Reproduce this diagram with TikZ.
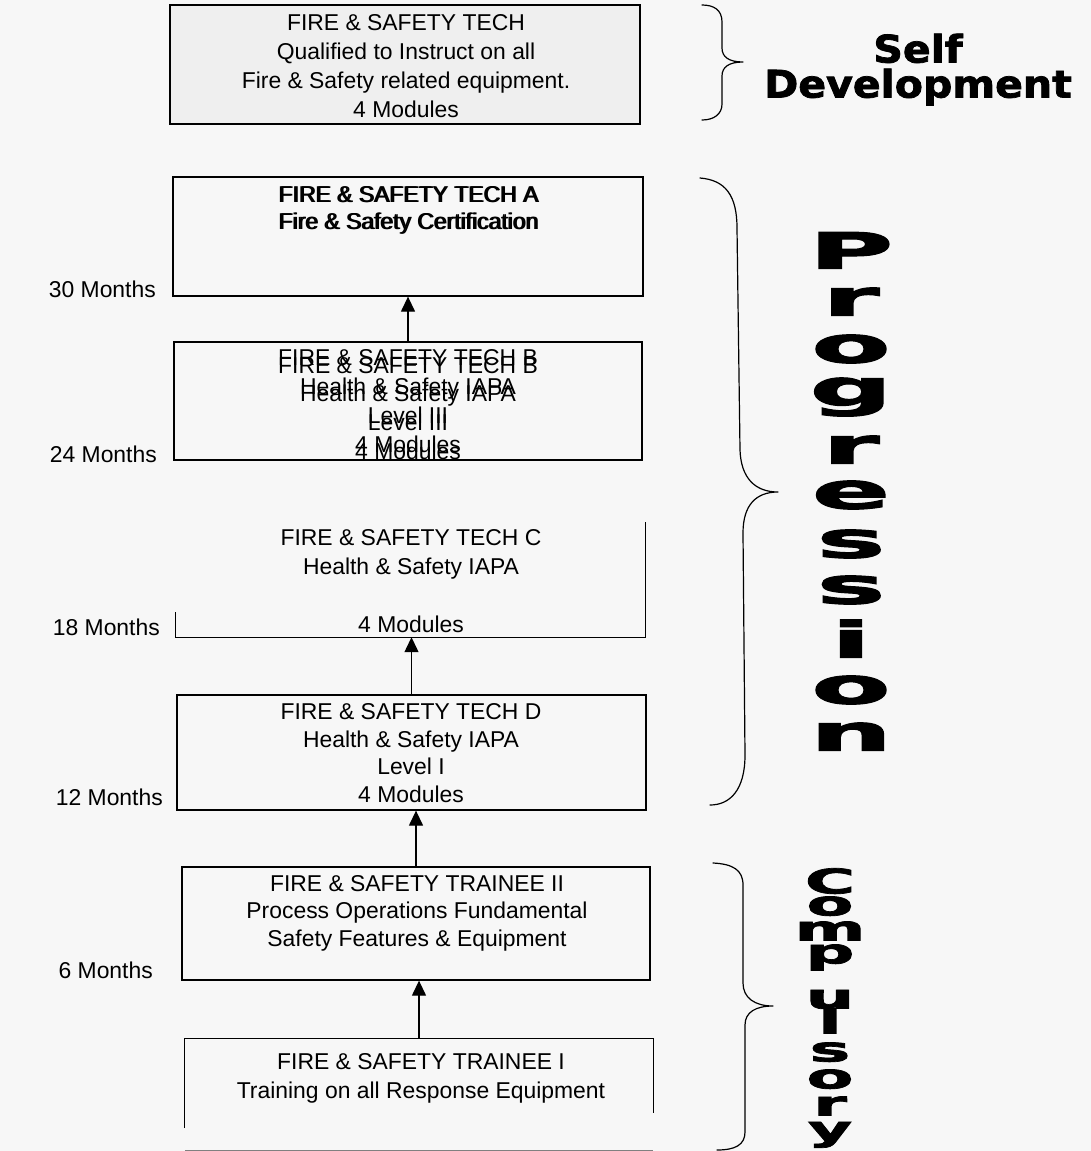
\documentclass[tikz,border=0pt]{standalone}
\usepackage{graphicx}
\usepackage{fontspec}
\setmainfont{Liberation Sans}
\newfontfamily\heavyfont{DejaVu Sans}[BoldFeatures={FakeBold=2}]
\usetikzlibrary{arrows.meta}
\definecolor{bgc}{HTML}{F7F7F7}
\definecolor{speck}{HTML}{EFEFEF}
\definecolor{faint}{HTML}{808080}
\newcommand{\wideP}[1]{\scalebox{2.3}[1]{#1}}
\newcommand{\wideC}[1]{\scalebox{2.0}[1]{#1}}
\newcommand{\wideS}[1]{\scalebox{1.08}[1]{#1}}
\begin{document}
\begin{tikzpicture}[x=1pt,y=-1pt,
  boxline/.style={line width=1.3pt, draw=black},
  box/.style={rectangle, boxline, inner sep=0pt},
  hollow/.style={rectangle, inner sep=0pt},
  txt/.style={inner sep=0pt, align=center, anchor=north, font={\fontsize{22.9}{#1}\selectfont}},
  mon/.style={inner sep=0pt, anchor=base east, font={\fontsize{22.9}{27}\selectfont}},
  arr/.style={-{Triangle[length=15pt,width=14pt]}, line width=1.3pt},
  bracepath/.style={line width=1.2pt, line cap=round, line join=round},
  big/.style={inner sep=0pt, align=center, anchor=north}]
\fill[bgc] (0,0) rectangle (1091,1151);
\useasboundingbox (0,0) rectangle (1091,1151);

% boxes
\node[box, fill=speck, minimum width=470pt, minimum height=119pt] (T) at (405,64.5) {};
\node[box, minimum width=470pt, minimum height=119pt] (A) at (408,236.5) {};
\node[box, minimum width=468pt, minimum height=118pt] (B) at (408,401) {};
\node[hollow, minimum width=469pt, minimum height=115pt] (C) at (410.5,579.5) {};
\node[box, minimum width=469pt, minimum height=115pt] (D) at (411.5,752.5) {};
\node[box, minimum width=468pt, minimum height=113pt] (T2) at (416,923.5) {};
\node[hollow, minimum width=468pt, minimum height=111pt] (T1) at (419,1094.5) {};

% partial borders
\draw[boxline] ([yshift=25pt]C.south west) -- (C.south west) -- (C.south east) -- (C.north east);
\draw[boxline] ([yshift=22pt]T1.south west) -- (T1.north west) -- (T1.north east) -- ([yshift=37pt]T1.south east);
\draw[line width=1pt, faint] (T1.south west) -- (T1.south east);

% texts
\node[txt=29] (Tt) at (406,14.5) {FIRE \& SAFETY TECH\\Qualified to Instruct on all\\Fire \& Safety related equipment.\\4 Modules};
\node[txt=27] (At) at (408,186.5) {FIRE \& SAFETY TECH A\\Fire \& Safety Certification};
\node[txt=27] (At2) at (409.5,186.5) {FIRE \& SAFETY TECH A\\Fire \& Safety Certification};
\node[txt=28.8] (Bt) at (408,349.5) {FIRE \& SAFETY TECH B\\Health \& Safety IAPA\\Level III\\4 Modules};
\node[txt=28.8] (Bt2) at (408,357) {FIRE \& SAFETY TECH B\\Health \& Safety IAPA\\Level III\\4 Modules};
\node[txt=29] (Ct) at (411,529.5) {FIRE \& SAFETY TECH C\\Health \& Safety IAPA\\[29pt]4 Modules};
\node[txt=27.7] (Dt) at (411,703.3) {FIRE \& SAFETY TECH D\\Health \& Safety IAPA\\Level I\\4 Modules};
\node[txt=27.3] (T2t) at (417,875.3) {FIRE \& SAFETY TRAINEE II\\Process Operations Fundamental\\Safety Features \& Equipment};
\node[txt=28.5] (T1t) at (421,1053.3) {FIRE \& SAFETY TRAINEE I\\Training on all Response Equipment};

% month labels
\node[mon] (m30) at (156,297) {30 Months};
\node[mon] (m24) at (157,462) {24 Months};
\node[mon] (m18) at (160,635) {18 Months};
\node[mon] (m12) at (163,805) {12 Months};
\node[mon] (m6) at (153,978) {6 Months};

% arrows
\draw[arr] (B.north) -- (B.north |- A.south);
\draw[arr] (D.north) -- (D.north |- C.south);
\draw[arr] (T2.north) -- (T2.north |- D.south);
\draw[arr] (T1.north) -- (T1.north |- T2.south);

% braces
\draw[bracepath] (702,5) .. controls (714,5) and (722,10) .. (722,22) -- (722,48)
  .. controls (722,57) and (729,62) .. (743,62) .. controls (729,62) and (722,67) .. (722,76)
  -- (722,104) .. controls (722,114) and (714,120) .. (702,120);
\draw[bracepath] (700,178) .. controls (725,180) and (737,195) .. (737,228) -- (740,450)
  .. controls (741,478) and (755,492) .. (778,492) .. controls (756,492) and (743,505) .. (743,533)
  -- (745,755) .. controls (745,790) and (730,805) .. (710,805);
\draw[bracepath] (713,863) .. controls (733,864) and (743,870) .. (743,885) -- (743,983)
  .. controls (743,998) and (755,1006) .. (773,1006) .. controls (756,1006) and (745,1012) .. (745,1025)
  -- (745,1132) .. controls (745,1145) and (735,1150) .. (717,1150);

% big labels
\node[big, font={\heavyfont\bfseries\fontsize{38}{35}\selectfont}] (self) at (918,33.5)
  {\wideS{Self}\\\wideS{Development}};
\node[big, font={\heavyfont\bfseries\fontsize{50}{0}\selectfont\lineskiplimit=-200pt}] (prog) at (851,232)
  {\wideP{P}\\[47pt]\wideP{r}\\[47pt]\wideP{o}\\[43pt]\wideP{g}\\[58pt]\wideP{r}\\[45pt]\wideP{e}\\[49pt]\wideP{s}\\[46pt]\wideP{s}\\[54pt]\wideP{i}\\[46pt]\wideP{o}\\[47pt]\wideP{n}};
\node[big, font={\heavyfont\bfseries\fontsize{34}{0}\selectfont\lineskiplimit=-200pt}] (comp) at (830,868)
  {\wideC{C}\\[22pt]\wideC{o}\\[25pt]\wideC{m}\\[23pt]\wideC{p}\\[45pt]\wideC{u}\\[25pt]\wideC{l}\\[28pt]\wideC{s}\\[27pt]\wideC{o}\\[27pt]\wideC{r}\\[25pt]\wideC{y}};
\end{tikzpicture}
\end{document}
